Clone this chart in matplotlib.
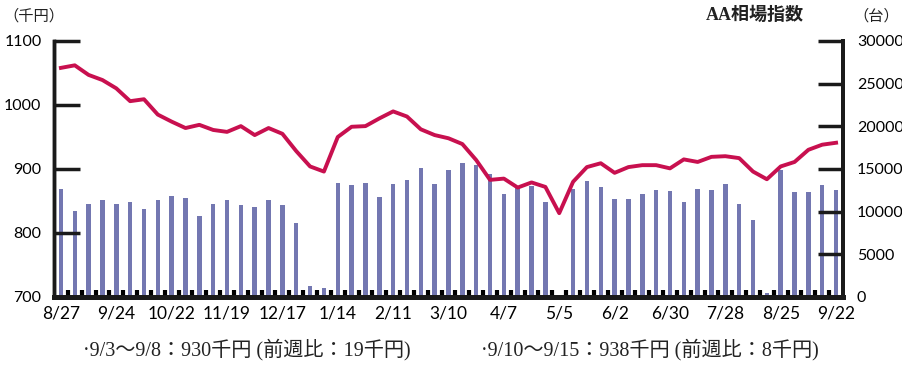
import numpy as np
import matplotlib.pyplot as plt
from matplotlib.ticker import FixedLocator

# weekly data, 8/27 .. 9/22 (57 weeks)
price = [1058, 1062, 1047, 1039, 1026, 1006, 1009, 985, 974, 964,
         969, 961, 958, 967, 953, 964, 955, 928, 904, 896,
         950, 966, 967, 979, 990, 982, 962, 953, 948, 939,
         914, 883, 885, 871, 879, 872, 831, 880, 903, 909,
         894, 903, 906, 906, 901, 915, 911, 919, 920, 917,
         896, 884, 904, 911, 930, 938, 941]
units = [12650, 10080, 10940, 11370, 10940, 11130, 10310, 11370, 11840, 11600,
         9490, 10940, 11370, 10780, 10550, 11370, 10780, 8660, 1290, 1020,
         13320, 13130, 13320, 11680, 13240, 13710, 15120, 13240, 14880, 15700,
         15470, 14420, 12070, 12740, 13010, 11170, 0, 12660, 13620, 12930,
         11490, 11490, 12070, 12540, 12420, 11170, 12660, 12540, 13240, 10900,
         9020, 430, 14880, 12340, 12340, 13130, 12540]
tick_labels = ['8/27', '9/24', '10/22', '11/19', '12/17', '1/14', '2/11', '3/10',
               '4/7', '5/5', '6/2', '6/30', '7/28', '8/25', '9/22']
left_ticks = [700, 800, 900, 1000, 1100]
right_ticks = [0, 5000, 10000, 15000, 20000, 25000, 30000]
note1 = '·9/3～9/8：930千円 (前週比：19千円)'
note2 = '·9/10～9/15：938千円 (前週比：8千円)'

bar_color = '#7377B1'
line_color = '#C8104F'
num_font = 'Lato'
jp_serif = ['Liberation Serif', 'Noto Sans CJK JP']

x = np.arange(len(price))

fig = plt.figure(figsize=(9.03, 3.67), dpi=100)
ax = fig.add_axes([54 / 903, 1 - 297 / 367, (843 - 54) / 903, (297 - 41) / 367])
ax2 = ax.twinx()

# bars on the right axis, line on the left axis drawn on top
ax2.set_axisbelow(False)
ax2.bar(x, units, width=0.32, color=bar_color)
ax.plot(x, price, color=line_color, lw=2.8, solid_joinstyle='round', zorder=3)
ax.set_zorder(ax2.get_zorder() + 1)
ax.patch.set_visible(False)

ax.set_xlim(-0.5, len(price) - 0.5)
ax.set_ylim(700, 1100)
ax2.set_ylim(0, 30000)

# x axis: labels every 4 weeks, small ticks between bars
ax.set_xticks(x[::4])
ax.set_xticklabels(tick_labels, fontsize=12.5, family=num_font)
ax.xaxis.set_minor_locator(FixedLocator(x[:-1] + 0.5))
ax.tick_params(axis='x', which='major', length=0, pad=6)
ax.tick_params(axis='x', which='minor', direction='in', length=5, width=3, color='black')

ax.set_yticks(left_ticks)
ax.set_yticklabels([str(v) for v in left_ticks], fontsize=11.5, family=num_font)
ax.tick_params(axis='y', direction='in', length=19, width=2.5, pad=9, color='#1a1a1a')

ax2.set_yticks(right_ticks)
ax2.set_yticklabels([str(v) for v in right_ticks], fontsize=11.5, family=num_font)
ax2.tick_params(axis='y', direction='in', length=18, width=2.5, pad=10, color='#1a1a1a')

for a in (ax, ax2):
    a.spines['top'].set_visible(False)
    a.spines['left'].set_linewidth(2.5)
    a.spines['right'].set_linewidth(2.8)
    a.spines['bottom'].set_linewidth(3.5)
    for s in a.spines.values():
        s.set_color('#1a1a1a')

fig.text(3 / 903, 1 - 16 / 367, '（千円）', fontsize=11, family='Noto Sans CJK JP',
         ha='left', va='center', color='#222222')
fig.text(804 / 903, 1 - 15 / 367, 'AA相場指数', fontsize=13, family=jp_serif,
         weight='bold', ha='right', va='center', color='#222222')
fig.text(899 / 903, 1 - 16 / 367, '（台）', fontsize=11, family='Noto Sans CJK JP',
         ha='right', va='center', color='#222222')

fig.text(247 / 903, 1 - 350 / 367, note1, fontsize=14.5, family=jp_serif,
         ha='center', va='center', color='#222222')
fig.text(650 / 903, 1 - 350 / 367, note2, fontsize=14.5, family=jp_serif,
         ha='center', va='center', color='#222222')

fig.savefig('out.png', dpi=100)
